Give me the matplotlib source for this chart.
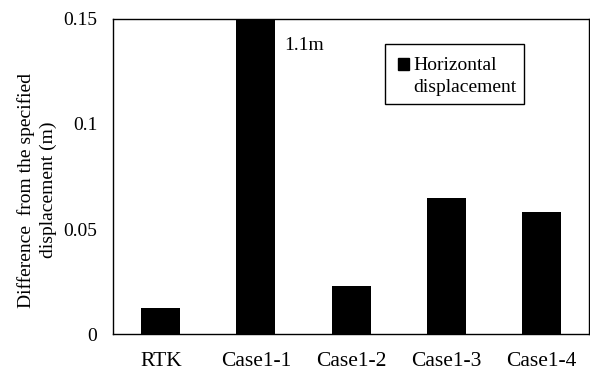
import matplotlib.pyplot as plt
from matplotlib.patches import Patch, Rectangle
from matplotlib.legend_handler import HandlerPatch

plt.rcParams['font.family'] = ['Liberation Serif', 'DejaVu Serif']

# data
cases = ['RTK', 'Case1-1', 'Case1-2', 'Case1-3', 'Case1-4']
diff_h = [0.0122, 1.1, 0.0229, 0.0649, 0.058]

fs = 14
leg_ls = 1.34


def top_square(legend, orig_handle, xdescent, ydescent, width, height, fontsize):
    # little square next to the first line of the two-line label
    # (legend text uses a mid-block baseline, so go up half a line step)
    s = 0.6 * fontsize
    y0 = 0.5 * (0.217 + 0.217 + 0.683 * leg_ls) * fontsize
    return Rectangle((width - s - xdescent, y0), s, s)


fig, ax = plt.subplots(figsize=(5.9, 3.72), dpi=100)
fig.subplots_adjust(left=0.192, right=0.998, top=0.949, bottom=0.102)

ax.bar(cases, diff_h, width=0.41, color='black')
ax.set_ylim(0, 0.15)
ax.set_xlim(-0.5, len(cases) - 0.5)
ax.set_yticks([0, 0.05, 0.1, 0.15])
ax.set_yticklabels(['0', '0.05', '0.1', '0.15'])
ax.tick_params(axis='both', length=0)
ax.tick_params(axis='y', pad=11.5, labelsize=fs)
ax.tick_params(axis='x', pad=13, labelsize=15.5)
for s in ax.spines.values():
    s.set_linewidth(1.0)

ax.set_ylabel('Difference  from the specified\ndisplacement (m)', fontsize=fs,
              linespacing=1.4)
ax.yaxis.set_label_coords(-0.118, 0.457)

# overflow label for the clipped bar
ax.text(1.3, 0.1376, '1.1m', fontsize=fs, va='center', ha='left')

leg = ax.legend(handles=[Patch(color='black', label='Horizontal\ndisplacement')],
                loc='upper left', bbox_to_anchor=(0.572, 0.92), fontsize=fs,
                title=' ', title_fontsize=4,
                fancybox=False, edgecolor='black', framealpha=1,
                handler_map={Patch: HandlerPatch(patch_func=top_square)},
                handlelength=0.82, handleheight=1.2, handletextpad=0.2,
                labelspacing=0, borderpad=0.41, borderaxespad=0)
leg.get_frame().set_linewidth(1.0)
for t in leg.get_texts():
    t.set_linespacing(leg_ls)

plt.savefig('out.png')
